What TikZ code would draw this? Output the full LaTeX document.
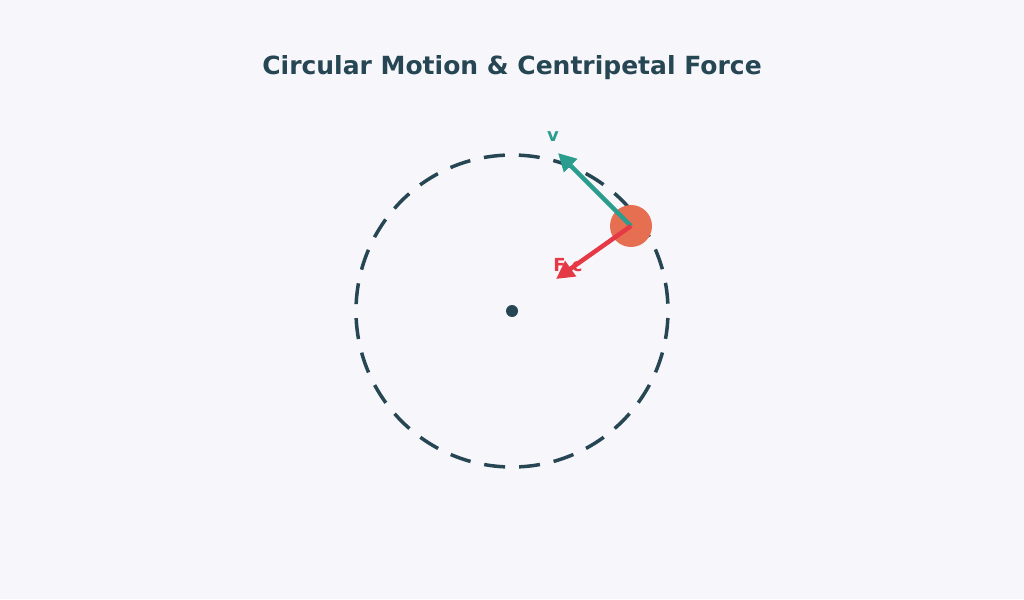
\documentclass[tikz,border=0pt]{standalone}
\usepackage{fontspec}
\setmainfont{DejaVu Sans}
\usetikzlibrary{arrows.meta}
\definecolor{bgcol}{HTML}{F7F7FB}
\definecolor{slate}{HTML}{264653}
\definecolor{teal}{HTML}{2A9D8F}
\definecolor{ball}{HTML}{E76F51}
\definecolor{force}{HTML}{E63946}
\begin{document}
\begin{tikzpicture}[x=1pt, y=-1pt]
    \fill [bgcol] (0,0) rectangle (1024,599);
    \useasboundingbox (0,0) rectangle (1024,599);
    \coordinate (O) at (512,311);
    \coordinate (M) at (631,226);
    \coordinate (V) at (558,153);
    \coordinate (F) at (556,279);
    \node (title) at (512,68) {\fontsize{25}{30}\selectfont\bfseries\color{slate}Circular Motion \& Centripetal Force};
    \draw [slate, line width=3.5pt, dash pattern=on 21pt off 14pt, dash phase=28pt] (O) circle (156);
    \fill [slate] (O) circle (6);
    \fill [ball] (M) circle (21);
    \node (vlabel) at (553,137) {\fontsize{18}{20}\selectfont\bfseries\color{teal}v};
    \node (flabel) at (568,265) {\fontsize{18}{20}\selectfont\bfseries\color{force}F c};
    \draw [teal, line width=4.5pt, -{Triangle[length=18pt, width=18pt]}] (M) -- (V);
    \draw [force, line width=4.5pt, -{Triangle[length=18pt, width=18pt]}] (M) -- (F);
\end{tikzpicture}
\end{document}
